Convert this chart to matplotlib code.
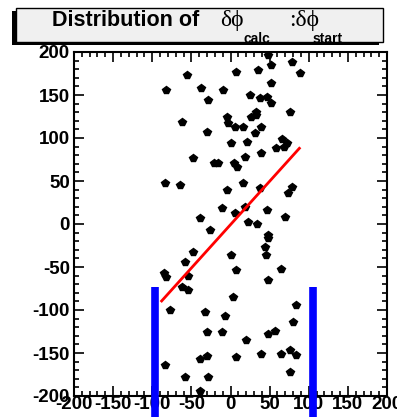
import matplotlib
matplotlib.use("Agg")
import matplotlib.pyplot as plt
from matplotlib.patches import Rectangle
from matplotlib.ticker import MultipleLocator

plt.rcParams['font.family'] = ['Liberation Sans', 'DejaVu Sans']
plt.rcParams['axes.unicode_minus'] = False

# dphi_calc (x) vs dphi_start (y)
dphi_calc = [47.7, 52.2, 78.2, -56.0, 7.6, 34.7, 88.4, 52.2, -81.8, -38.2,
             -9.3, -28.4, 24.6, 37.3, 46.2, 52.2, 76.0, -62.3, -5.1, -3.4,
             6.0, 16.2, 26.3, 32.2, 33.1, 39.4, 30.9, -30.5, 65.5, 0.9,
             20.7, 72.1, 67.8, 58.5, -47.7, -21.2, -15.6, 5.1, 8.0, 18.2,
             39.4, -84.0, -64.0, -5.1, 16.2, 37.3, 78.0, 73.4, -11.5, 18.2,
             46.2, -39.1, 5.5, 22.5, 33.5, 70.0, -26.3, 47.7, 47.7, 43.6,
             45.8, -47.7, 1.0, -58.3, -84.9, -81.8, -54.1, 7.6, 64.9, -62.3,
             -53.8, 47.7, 3.4, 84.0, -76.7, -32.8, -7.3, 79.8, -30.5, -11.5,
             20.4, 48.0, 56.4, -84.0, -39.1, -30.5, 7.6, 39.4, 64.9, 75.4,
             84.0, -58.3, -28.4, 75.4, -39.1]
dphi_start = [196.5, 184.9, 188.7, 173.3, 177.1, 179.1, 175.2, 163.6, 155.8, 157.8,
              155.8, 144.2, 150.0, 146.2, 148.0, 140.3, 130.6, 119.0, 124.8, 117.1,
              113.1, 113.1, 124.8, 130.6, 126.7, 113.1, 105.5, 107.3, 98.8, 93.8,
              95.7, 93.8, 89.9, 88.0, 76.4, 70.6, 70.6, 70.6, 65.9, 78.3,
              82.2, 47.3, 45.3, 39.5, 47.3, 41.5, 43.4, 35.7, 18.3, 20.1,
              16.3, 6.6, 12.4, 2.7, -0.3, 8.5, -7.3, -12.8, -16.6, -26.4,
              -36.0, -32.6, -36.0, -44.2, -57.3, -61.3, -60.1, -53.8, -52.0, -73.3,
              -77.1, -65.5, -85.2, -94.5, -100.3, -102.3, -106.6, -114.0, -125.6, -125.6,
              -135.2, -127.9, -124.1, -164.3, -156.6, -153.1, -154.7, -150.8, -150.8, -146.9,
              -152.7, -177.9, -177.9, -172.1, -193.8]

fit_x = [-88, 88]
fit_y = [-89.5, 88]

cut_x = [-97, 105.6]
cut_top = -73.3

W, H = 397, 417
fig = plt.figure(figsize=(W / 100, H / 100), dpi=100)
ax = fig.add_axes([74 / W, 21 / H, 313 / W, 344 / H])

ax.plot(dphi_calc, dphi_start, linestyle='none', marker='p', ms=5.5, color='black')
ax.plot(fit_x, fit_y, color='red', lw=2)
for cx in cut_x:
    ax.plot([cx, cx], [cut_top, -260], color='blue', lw=5.5, clip_on=False,
            solid_capstyle='butt', zorder=5)

ax.set_xlim(-200, 200)
ax.set_ylim(-200, 200)
ax.xaxis.set_major_locator(MultipleLocator(50))
ax.yaxis.set_major_locator(MultipleLocator(50))
ax.xaxis.set_minor_locator(MultipleLocator(10))
ax.yaxis.set_minor_locator(MultipleLocator(10))
ax.tick_params(which='both', direction='in', top=True, right=True, width=1.2)
ax.tick_params(which='major', length=7.5)
ax.tick_params(which='minor', length=3.8)
ax.tick_params(axis='x', pad=0)
ax.tick_params(axis='y', pad=3)
for lab in ax.get_xticklabels() + ax.get_yticklabels():
    lab.set_fontsize(13.5)
    lab.set_fontweight('bold')
for s in ax.spines.values():
    s.set_linewidth(1.5)

# title box with ROOT-like shadow
def fx(px):
    return px / W

def fy(py):
    return 1 - py / H

fig.patches.append(Rectangle((fx(12), fy(45)), (383 - 16) / W, (42 - 8) / H,
                             transform=fig.transFigure, facecolor='black',
                             edgecolor='none', zorder=1))
fig.patches.append(Rectangle((fx(16), fy(42)), (383 - 16) / W, (42 - 8) / H,
                             transform=fig.transFigure, facecolor='#f0f0f0',
                             edgecolor='black', lw=1, zorder=2))

serif = ['Liberation Serif', 'DejaVu Serif']
fig.text(fx(52), fy(26), 'Distribution of', fontsize=15.5, fontweight='bold',
         va='baseline', zorder=3)
fig.text(fx(220), fy(26), 'δϕ', fontsize=17, family=serif, va='baseline', zorder=3)
fig.text(fx(244), fy(43), 'calc', fontsize=10, fontweight='bold', va='baseline', zorder=3)
fig.text(fx(289), fy(26), ':δϕ', fontsize=17, family=serif, va='baseline', zorder=3)
fig.text(fx(313), fy(43), 'start', fontsize=10, fontweight='bold', va='baseline', zorder=3)

fig.savefig('out.png', dpi=100)
